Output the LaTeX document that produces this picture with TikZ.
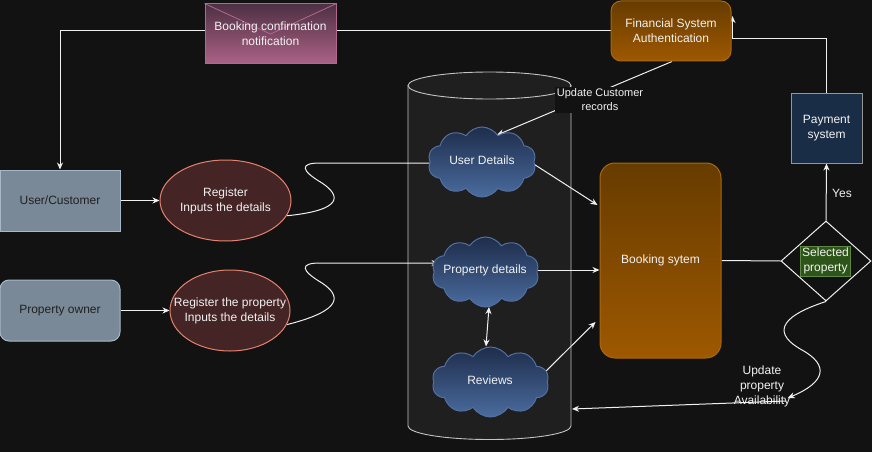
\documentclass[tikz,border=0pt]{standalone}
\usepackage{fontspec}
\setmainfont{Liberation Sans}
\usetikzlibrary{shapes.geometric,shapes.symbols,arrows.meta,calc}
\definecolor{bg}{RGB}{18,18,18}
\definecolor{cylfill}{RGB}{31,31,31}
\definecolor{cyledge}{RGB}{195,195,195}
\definecolor{wire}{RGB}{240,240,240}
\definecolor{txt}{RGB}{242,242,242}
\definecolor{notiftop}{RGB}{78,48,68}
\definecolor{notifbot}{RGB}{172,98,134}
\definecolor{notifedge}{RGB}{178,104,142}
\definecolor{orgtop}{RGB}{102,60,0}
\definecolor{orgbot}{RGB}{158,88,0}
\definecolor{orgedge}{RGB}{170,104,10}
\definecolor{navy}{RGB}{26,45,70}
\definecolor{navyedge}{RGB}{150,150,150}
\definecolor{slate}{RGB}{122,137,152}
\definecolor{slateedge}{RGB}{165,183,200}
\definecolor{darktxt}{RGB}{32,32,32}
\definecolor{ellfill}{RGB}{68,36,36}
\definecolor{elledge}{RGB}{228,130,112}
\definecolor{cldtop}{RGB}{30,45,75}
\definecolor{cldbot}{RGB}{74,108,158}
\definecolor{cldedge}{RGB}{82,112,162}
\definecolor{selfill}{RGB}{45,85,25}
\definecolor{seledge}{RGB}{95,135,65}
\pgfdeclarelayer{bglayer}
\pgfdeclarelayer{edgelayer}
\pgfsetlayers{bglayer,edgelayer,main}
\tikzset{
  base/.style={font=\fontsize{12}{15}\selectfont, align=center, text=txt, line width=1pt, inner sep=0pt},
  orgbox/.style={base, rectangle, rounded corners=#1, top color=orgtop, bottom color=orgbot, draw=orgedge},
  slatebox/.style={base, rectangle, fill=slate, draw=slateedge, text=darktxt, minimum width=120pt, minimum height=61pt},
  regell/.style={base, ellipse, fill=ellfill, draw=elledge},
  cld/.style={base, cloud, cloud puffs=10, cloud puff arc=115, aspect=1.55, top color=cldtop, bottom color=cldbot, draw=cldedge},
  wirestyle/.style={draw=wire, line width=1pt},
  arr/.style={wirestyle, -{Stealth[length=7pt,width=6pt,inset=2.2pt]}},
  dblarr/.style={wirestyle, {Stealth[length=7pt,width=6pt,inset=2.2pt]}-{Stealth[length=7pt,width=6pt,inset=2.2pt]}},
  lbl/.style={base}
}
\begin{document}
\begin{tikzpicture}[x=1pt,y=-1pt]
\begin{pgfonlayer}{bglayer}
\fill[bg] (0,0) rectangle (872,452);
% cylinder (database)
\fill[cylfill] (408,85.5) -- (408,426) arc[start angle=180,end angle=360,x radius=81.5pt,y radius=13.5pt] -- (571,85.5) arc[start angle=0,end angle=180,x radius=81.5pt,y radius=13.5pt] -- cycle;
\draw[cyledge, line width=0.9pt] (408,85.5) -- (408,426) arc[start angle=180,end angle=360,x radius=81.5pt,y radius=13.5pt] -- (571,85.5);
\draw[cyledge, line width=0.9pt] (489.5,85.5) ellipse[x radius=81.5pt,y radius=13.5pt];
\end{pgfonlayer}
\useasboundingbox (0,0) rectangle (872,452);
\coordinate (cylr) at (572,409);

% nodes
\node[base, rectangle, top color=notiftop, bottom color=notifbot, draw=notifedge, minimum width=131pt, minimum height=60pt] (notif) at (270.5,34) {};
\draw[notifedge, line width=0.8pt] (notif.north west) -- (notif.center) -- (notif.north east);
\node[base] (notiftext) at (270.5,34) {Booking confirmation\\notification};

\node[orgbox=10pt, minimum width=120pt, minimum height=60pt] (fin) at (671,31) {Financial System\\Authentication};
\node[base, rectangle, fill=navy, draw=navyedge, minimum width=71pt, minimum height=70pt] (pay) at (826.5,128) {Payment\\system};
\node[base, diamond, draw=wire, minimum width=90pt, minimum height=80pt] (dia) at (826,261) {};
\node[base, rectangle, fill=selfill, draw=seledge, inner sep=2pt, line width=0.8pt] (sel) at (825.5,261) {Selected\\property};
\node[lbl] (yes) at (842,193) {Yes};
\node[orgbox=15pt, minimum width=121pt, minimum height=195pt] (book) at (660.5,260.5) {Booking sytem};

\node[slatebox] (user) at (60,200.5) {User/Customer};
\node[slatebox, rounded corners=9pt] (owner) at (60,310.5) {Property owner};
\node[regell, minimum width=131pt, minimum height=81pt] (reg) at (225.5,200.5) {};
\node[base] (regt) at (225.5,200.5) {Register\\Inputs the details};
\node[regell, minimum width=120pt, minimum height=81pt] (regp) at (230,310.5) {};
\node[base] (regpt) at (230,310.5) {Register the property\\Inputs the details};

\node[cld, minimum width=108pt, minimum height=70pt] (ud) at (482,162) {};
\node[base] (udt) at (482,160) {User Details};
\node[cld, minimum width=107pt, minimum height=70pt] (pd) at (485.5,272) {};
\node[base] (pdt) at (485,270) {Property details};
\node[cld, minimum width=117pt, minimum height=70pt] (rv) at (490.5,382) {};
\node[base] (rvt) at (490,380) {Reviews};

\node[base, font=\fontsize{11}{14}\selectfont, fill=bg, inner sep=2pt] (ucr) at (600,100) {Update Customer\\records};
\node[lbl] (avail) at (762,386) {Update\\property\\Availability};

% connectors
\begin{pgfonlayer}{edgelayer}
\draw[arr] (user.east) -- (reg.west);
\draw[arr] (owner.east) -- (regp.west);
\draw[arr] (reg.-14) .. controls (345,210) and (340,195) .. (322,183) .. controls (300,170) and (300,163) .. (320,163) -- ($(ud.center)+(-43,1)$);
\draw[arr] (regp.-14) .. controls (345,310) and (340,295) .. (322,283) .. controls (300,270) and (300,263) .. (320,263) -- ($(pd.center)+(-47,-9)$);
\draw[arr] ($(ud.center)+(47,-1)$) -- ($(book.west)+(-2,-55.5)$);
\draw[arr] ($(pd.center)+(45,-2)$) -- ($(book.west)+(0,9.5)$);
\draw[arr] ($(rv.center)+(52.5,-8)$) -- ($(book.west)+(-4,61.5)$);
\draw[dblarr] ($(pd.center)+(3.5,35)$) -- ($(rv.center)+(-4.5,-35.5)$);
\draw[wirestyle] (book.east) -- (dia.west);
\draw[arr] (dia.north) -- (pay.south);
\draw[arr] (pay.north) -- (pay.north |- 0,39) -- ($(fin.east)+(1,8)$) -- ($(fin.east)+(1,-15)$);
\draw[arr] (fin.west) -- (user.north |- fin.west) -- (user.north);
\draw[arr] ($(fin.south)+(1,0)$) -- ($(ud.center)+(15,-27)$);
\draw[arr] (dia.south) .. controls (775,318) and (775,335) .. (802,350) .. controls (829,365) and (826,382) .. ($(avail.east)+(-3,12)$);
\draw[arr] ($(avail.east)+(-5,15)$) -- (cylr);
\end{pgfonlayer}
\end{tikzpicture}
\end{document}
